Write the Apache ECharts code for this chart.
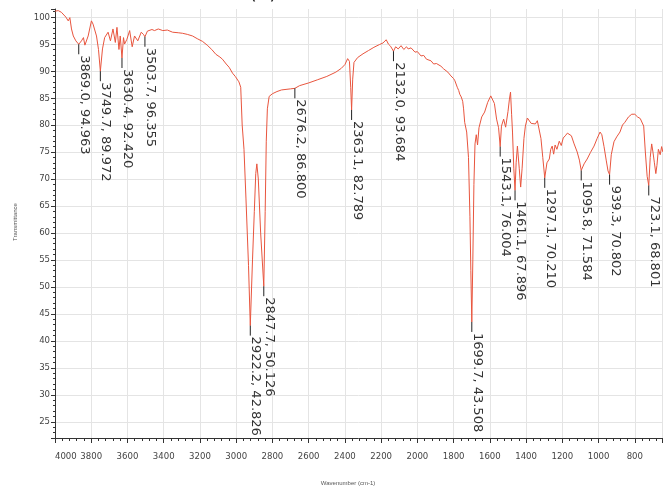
<!DOCTYPE html>
<html>
<head>
<meta charset="utf-8">
<script src="https://cdn.jsdelivr.net/npm/echarts@6/dist/echarts.min.js"></script>
<style>
html,body{margin:0;padding:0;background:#fff;}
#chart{width:665px;height:488px;}
</style>
</head>
<body>
<div id="chart"></div>
<script>
// Spectrum (wavenumber in cm-1, transmittance in %)
const wavenumbers = [4000,3982,3965,3954,3940,3927,3918,3909,3899,3885,3869.0,3854,3843,3835,3817,3799,3790,3771,3760,3749.7,3738,3726,3707,3694,3680,3667,3658,3647,3640,3630.4,3622,3616,3603,3588,3574,3561,3543,3524,3512,3503.7,3490,3479,3465,3451,3430,3405,3380,3351,3320,3296,3270,3241,3215,3186,3160,3135,3112,3090,3076,3055,3039,3020,3005,2994,2985,2975,2967,2957,2946,2932,2922.2,2910,2900,2892,2886,2878,2865,2847.7,2840,2834,2828,2818,2800,2775,2750,2725,2700,2676.2,2650,2600,2550,2500,2450,2420,2400,2385,2375,2368,2363.1,2357,2350,2330,2300,2270,2240,2210,2190,2172,2160,2148,2132.0,2120,2106,2090,2075,2060,2051,2035,2013,2000,1980,1965,1950,1925,1910,1895,1870,1855,1845,1832,1815,1800,1793,1780,1772,1766,1758,1750,1745,1739,1728,1718,1710,1705,1699.7,1694,1688,1682,1675,1668,1660,1645,1629,1612,1595,1585,1575,1563,1552,1543.1,1536,1524,1513,1500,1492,1486,1480,1475,1468,1461.1,1455,1448,1438,1430,1422,1412,1404,1393,1382,1372,1365,1349,1338,1327,1318,1308,1297.1,1285,1272,1264,1256,1248,1240,1230,1217,1206,1195,1184,1172,1162,1150,1135,1118,1106,1095.8,1080,1063,1045,1025,1008,992,982,970,958,948,939.3,930,915,900,882,868,855,835,817,800,785,770,762,751,742,732,723.1,715,707,700,692,684,678,670,660,652,645];
const transmittance = [101.1,101.2,100.9,100.6,100.0,99.3,99.9,97.8,96.5,95.6,94.963,95.6,96.2,94.8,96.5,99.3,98.7,96.5,94.0,89.972,94.1,96.2,97.2,95.6,97.8,95.3,98.1,94.0,96.5,92.420,96.2,95.0,95.9,97.5,94.5,96.5,95.6,97.2,96.8,96.355,97.4,97.2,97.7,97.5,97.8,97.5,97.6,97.2,97.1,97.0,96.8,96.5,96.0,95.5,94.8,94.0,93.1,92.6,92.2,91.3,90.7,89.6,89.0,88.8,88.0,87.0,80,75.5,66.3,54,42.826,55,64,71,72.8,70,60,50.126,64,77,83,85.3,85.8,86.2,86.5,86.6,86.7,86.800,87.3,87.8,88.4,89.0,89.8,90.5,91.2,92.3,91.8,87,82.789,88.5,91.6,92.5,93.2,93.8,94.4,94.9,95.2,95.8,95.0,94.6,93.684,94.5,94.1,94.7,94.0,94.5,94.1,94.3,93.5,93.6,92.8,92.9,92.2,91.9,91.3,91.4,90.9,90.4,90.5,89.8,89.1,88.6,88.2,87.0,86.4,85.7,85.2,84.4,83.0,80.5,78.7,74,63,53,43.508,55,69,76.5,78.2,76.3,79.5,81.5,82.4,84.2,85.4,85.7,84.0,81.1,79.5,76.004,79.8,81.1,79.6,82.5,84.8,86.1,82,78.7,72,67.896,73,76.1,72,68.5,72,77.5,79.8,81.3,81.5,80.3,80.5,80.2,80.8,81.1,77.5,74,70.210,73,73.7,75.5,76.1,74.6,76.3,75.5,77.0,76.2,77.6,78.0,78.5,78.7,78.0,76.5,75.0,73.5,71.584,72.8,73.7,74.9,76.1,77.5,78.7,78.2,76.0,73.5,71.5,70.802,74.5,76.9,77.8,78.7,80.0,80.5,81.5,82.0,82.0,81.5,81.2,81.0,79.8,75,70.5,68.801,74,76.5,75,73,71,72.5,75.5,74.5,76,75];

// Annotated peaks
const peakWn = [3869.0,3749.7,3630.4,3503.7,2922.2,2847.7,2676.2,2363.1,2132.0,1699.7,1543.1,1461.1,1297.1,1095.8,939.3,723.1];
const peakT  = [94.963,89.972,92.420,96.355,42.826,50.126,86.800,82.789,93.684,43.508,76.004,67.896,70.210,71.584,70.802,68.801];

const titleText = '(a)';
const xName = 'Wavenumber (cm-1)';
const yName = 'Transmittance';

const spectrum = wavenumbers.map((w, i) => [w, transmittance[i]]);
const peaks = peakWn.map((w, i) => [w, peakT[i]]);

const chart = echarts.init(document.getElementById('chart'), null, {renderer: 'canvas'});
const tickFont = "'DejaVu Sans Condensed', 'Liberation Sans', sans-serif";

chart.setOption({
  animation: false,
  backgroundColor: '#ffffff',
  grid: {left: 55, right: 0, top: 9, bottom: 50, containLabel: false},
  xAxis: {
    type: 'value', inverse: true, min: 650, max: 4000,
    minInterval: 200, maxInterval: 200, splitNumber: 17,
    axisLine: {lineStyle: {color: '#333', width: 1}},
    axisTick: {length: 5, lineStyle: {color: '#333'}},
    minorTick: {show: true, splitNumber: 5, length: 3, lineStyle: {color: '#333'}},
    splitLine: {show: true, lineStyle: {color: '#e4e4e4', width: 1}},
    axisLabel: {margin: 14, fontSize: 9.5, color: '#444', fontFamily: tickFont,
      showMinLabel: true, showMaxLabel: true, hideOverlap: false,
      alignMaxLabel: 'left',
      formatter: function (v) { return (v % 200 === 0) ? String(v) : ''; }}
  },
  yAxis: {
    type: 'value', min: 22, max: 101.5,
    minInterval: 5, maxInterval: 5, splitNumber: 16,
    axisLine: {show: true, lineStyle: {color: '#333', width: 1}},
    axisTick: {show: true, length: 4, lineStyle: {color: '#333'}},
    minorTick: {show: true, splitNumber: 5, length: 2, lineStyle: {color: '#333'}},
    splitLine: {show: true, showMinLine: false, showMaxLine: false, lineStyle: {color: '#e4e4e4', width: 1}},
    axisLabel: {margin: 5, fontSize: 9.5, color: '#444', fontFamily: tickFont,
      showMinLabel: false, showMaxLabel: false,
      formatter: function (v) { return String(v); }}
  },
  series: [
    {
      type: 'line', data: spectrum, symbol: 'none', smooth: false,
      lineStyle: {color: '#e8553e', width: 1}, z: 3
    },
    {
      type: 'custom', data: peaks, z: 5, clip: false,
      encode: {x: 0, y: 1},
      renderItem: function (params, api) {
        const w = api.value(0), t = api.value(1);
        const p = api.coord([w, t]);
        const label = w.toFixed(1) + ', ' + t.toFixed(3);
        return {
          type: 'group',
          children: [
            {type: 'line', shape: {x1: p[0], y1: p[1], x2: p[0], y2: p[1] + 10},
             style: {stroke: '#222', lineWidth: 1}},
            {type: 'text', x: p[0] - 1, y: p[1] + 11, rotation: -Math.PI / 2,
             style: {text: label, align: 'left', verticalAlign: 'bottom',
                     fontSize: 13, fontFamily: 'DejaVu Sans', fill: '#333'}}
          ]
        };
      }
    }
  ],
  graphic: [
    {type: 'text', x: 263, y: 4, style: {text: titleText, align: 'center', verticalAlign: 'bottom',
      fontSize: 20, fontFamily: 'DejaVu Sans', fill: '#222'}},
    {type: 'text', x: 348, y: 483, style: {text: xName, align: 'center', verticalAlign: 'middle',
      fontSize: 6, fontFamily: 'Liberation Sans', fill: '#555'}},
    {type: 'text', x: 15, y: 222, rotation: Math.PI / 2, style: {text: yName, align: 'center', verticalAlign: 'middle',
      fontSize: 6, fontFamily: 'Liberation Sans', fill: '#555'}}
  ]
});
</script>
</body>
</html>
